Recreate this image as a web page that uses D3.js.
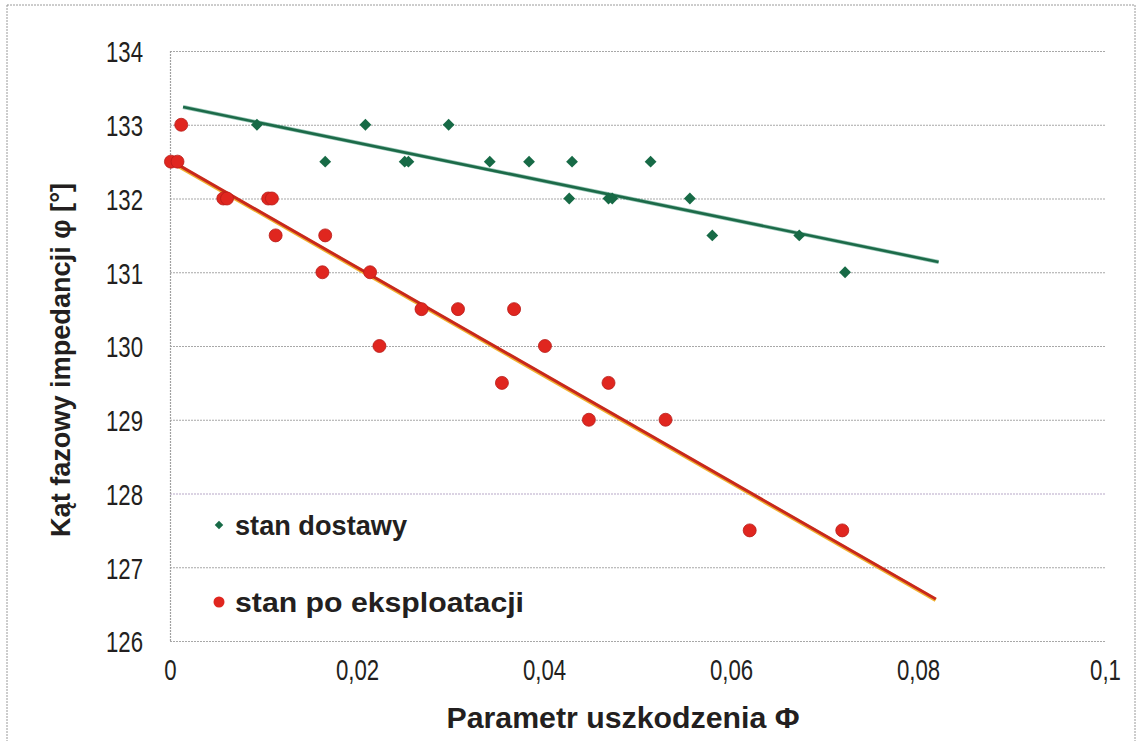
<!DOCTYPE html>
<html>
<head>
<meta charset="utf-8">
<script src="https://cdn.jsdelivr.net/npm/d3@7"></script>
<style>
  html, body { margin: 0; padding: 0; background: #fff; }
  svg { display: block; }
  text { font-family: "Liberation Sans", Arial, sans-serif; fill: #231f20; }
</style>
</head>
<body>
<svg id="chart" width="1141" height="741"></svg>
<script>
// ---- data ----
const xTicks = [0, 0.02, 0.04, 0.06, 0.08, 0.1];
const xTickLabels = ["0", "0,02", "0,04", "0,06", "0,08", "0,1"];
const yTicks = [126, 127, 128, 129, 130, 131, 132, 133, 134];
const yTickLabels = ["126", "127", "128", "129", "130", "131", "132", "133", "134"];

const seriesNames = ["stan dostawy", "stan po eksploatacji"];

const greenX = [0.0093, 0.0166, 0.0209, 0.0251, 0.0255, 0.0298, 0.0342, 0.0384, 0.0430,
                0.0427, 0.0469, 0.0473, 0.0514, 0.0556, 0.0580, 0.0673, 0.0722];
const greenY = [133, 132.5, 133, 132.5, 132.5, 133, 132.5, 132.5, 132.5,
                132, 132, 132, 132.5, 132, 131.5, 131.5, 131];

const redX = [0.0001, 0.0008, 0.0012, 0.0057, 0.0061, 0.0105, 0.0109, 0.0113, 0.0163, 0.0166,
              0.0214, 0.0224, 0.0269, 0.0308, 0.0355, 0.0368, 0.0401, 0.0448, 0.0469, 0.0530,
              0.0620, 0.0719];
const redY = [132.5, 132.5, 133, 132, 132, 132, 132, 131.5, 131, 131.5,
              131, 130, 130.5, 130.5, 129.5, 130.5, 130, 129, 129.5, 129,
              127.5, 127.5];

const greenTrendX = [0.0014, 0.0822];
const greenTrendY = [133.24, 131.14];
const redTrendX = [0.0000, 0.0819];
const redTrendY = [132.52, 126.57];

const xTitle = "Parametr uszkodzenia Φ";
const yTitle = "Kąt fazowy impedancji φ [°]";

// ---- layout ----
const svg = d3.select("#chart");
const L = 170, R = 1105, T = 51, B = 641;
const x = d3.scaleLinear().domain([0, 0.1]).range([L, R]);
const y = d3.scaleLinear().domain([126, 134]).range([B, T]);

const greenCol = "#176a46";
const redCol = "#e0261f";

// outer border
svg.append("rect").attr("x", 7).attr("y", 5).attr("width", 1128).attr("height", 745)
  .attr("fill", "none").attr("stroke", "#9a9a9a").attr("stroke-width", 1)
  .attr("stroke-dasharray", "2,1");

// gridlines
svg.append("g").selectAll("line").data(yTicks).join("line")
  .attr("x1", L).attr("x2", R)
  .attr("y1", d => y(d) + 0.5).attr("y2", d => y(d) + 0.5)
  .attr("stroke", d => d === 128 ? "#b8a8c8" : "#a8a8a8")
  .attr("stroke-width", 1.2)
  .attr("stroke-dasharray", "2,1");

// left axis line
svg.append("line").attr("x1", L + 0.5).attr("x2", L + 0.5).attr("y1", T).attr("y2", B)
  .attr("stroke", "#a0a0a0").attr("stroke-width", 1.2).attr("stroke-dasharray", "2,1");

// condensed text helper
function condense(sel, f) {
  sel.each(function () {
    const w = this.getComputedTextLength();
    d3.select(this).attr("textLength", w * f).attr("lengthAdjust", "spacingAndGlyphs");
  });
}

// y tick labels via axis
const yAxis = d3.axisLeft(y).tickValues(yTicks)
  .tickFormat((d, i) => yTickLabels[i]).tickSize(0).tickPadding(27);
const gy = svg.append("g").attr("transform", `translate(${L},0)`).call(yAxis);
gy.select(".domain").remove();
gy.selectAll("text").attr("font-size", 30).attr("fill", "#231f20")
  .attr("font-family", "Liberation Sans, Arial, sans-serif").attr("dy", "0.36em");
condense(gy.selectAll("text"), 0.74);

// x tick labels via axis
const xAxis = d3.axisBottom(x).tickValues(xTicks)
  .tickFormat((d, i) => xTickLabels[i]).tickSize(0).tickPadding(18);
const gx = svg.append("g").attr("transform", `translate(0,${B})`).call(xAxis);
gx.select(".domain").remove();
gx.selectAll("text").attr("font-size", 30).attr("fill", "#231f20")
  .attr("font-family", "Liberation Sans, Arial, sans-serif");
condense(gx.selectAll("text"), 0.74);

// axis titles
const xt = svg.append("text").attr("x", 623).attr("y", 728)
  .attr("text-anchor", "middle").attr("font-size", 29).attr("font-weight", "bold")
  .text(xTitle);
xt.attr("textLength", 353).attr("lengthAdjust", "spacingAndGlyphs");

const yt = svg.append("text").attr("transform", "translate(70,360) rotate(-90)")
  .attr("text-anchor", "middle").attr("font-size", 27).attr("font-weight", "bold")
  .text(yTitle);
yt.attr("textLength", 354).attr("lengthAdjust", "spacingAndGlyphs");

// trend lines
const line = d3.line().x(d => x(d[0])).y(d => y(d[1]));
const greenTrend = greenTrendX.map((v, i) => [v, greenTrendY[i]]);
const redTrend = redTrendX.map((v, i) => [v, redTrendY[i]]);
svg.append("path").datum(greenTrend).attr("d", line)
  .attr("stroke", "#2a8a6a").attr("stroke-width", 4).attr("fill", "none").attr("opacity", 0.5);
svg.append("path").datum(greenTrend).attr("d", line)
  .attr("stroke", "#1c6a48").attr("stroke-width", 2.6).attr("fill", "none");
svg.append("path").datum(redTrend).attr("d", line)
  .attr("stroke", "#f0b030").attr("stroke-width", 4).attr("fill", "none")
  .attr("transform", "translate(0,1)");
svg.append("path").datum(redTrend).attr("d", line)
  .attr("stroke", "#c8281c").attr("stroke-width", 3).attr("fill", "none");

// points
const diamond = d3.symbol().type(d3.symbolSquare).size(70);
svg.append("g").selectAll("path")
  .data(greenX.map((v, i) => [v, greenY[i]])).join("path")
  .attr("d", diamond)
  .attr("transform", d => `translate(${x(d[0])},${y(d[1])}) rotate(45)`)
  .attr("fill", greenCol);

svg.append("g").selectAll("circle")
  .data(redX.map((v, i) => [v, redY[i]])).join("circle")
  .attr("cx", d => x(d[0])).attr("cy", d => y(d[1])).attr("r", 6.5)
  .attr("fill", redCol).attr("stroke", "#b81c18").attr("stroke-width", 0.8);

// legend
const lg = svg.append("g");
lg.append("path").attr("d", d3.symbol().type(d3.symbolSquare).size(36))
  .attr("transform", "translate(219,525) rotate(45)").attr("fill", greenCol);
lg.append("circle").attr("cx", 219).attr("cy", 602).attr("r", 5.5).attr("fill", redCol);
const lt1 = lg.append("text").attr("x", 235).attr("y", 535).attr("font-size", 28)
  .attr("font-weight", "bold").text(seriesNames[0]);
lt1.attr("textLength", 172).attr("lengthAdjust", "spacingAndGlyphs");
const lt2 = lg.append("text").attr("x", 235).attr("y", 612).attr("font-size", 28)
  .attr("font-weight", "bold").text(seriesNames[1]);
lt2.attr("textLength", 289).attr("lengthAdjust", "spacingAndGlyphs");
</script>
</body>
</html>
